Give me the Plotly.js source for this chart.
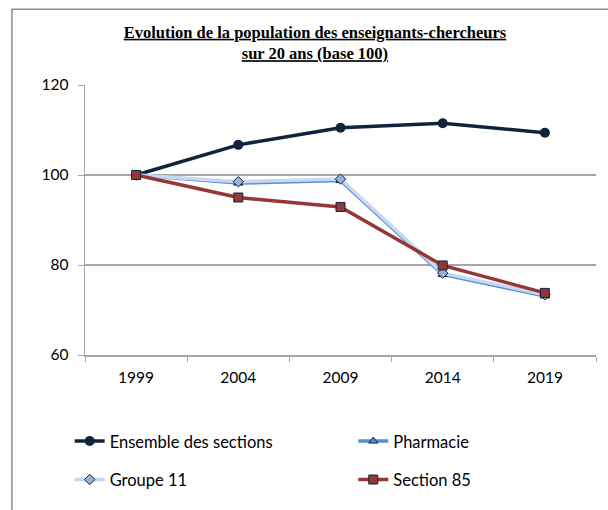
<!DOCTYPE html>
<html>
<head>
<meta charset="utf-8">
<script src="https://cdn.plot.ly/plotly-3.0.1.min.js"></script>
<style>
html,body{margin:0;padding:0;background:#fff;overflow:hidden;}
#chart{width:608px;height:510px;}
</style>
</head>
<body>
<div id="chart"></div>
<script>
const years = ['1999', '2004', '2009', '2014', '2019'];
const ensemble = [100, 106.7, 110.5, 111.5, 109.4];
const pharmacie = [100, 98.2, 98.8, 77.9, 73.1];
const groupe11 = [100, 98.5, 99.1, 78.2, 73.4];
const section85 = [100, 95.0, 92.9, 79.9, 73.8];
const titleText = 'Evolution de la population des enseignants-chercheurs<br>sur 20 ans (base 100)';
const yTicks = [60, 80, 100, 120];

const navy = '#10243E';
const traces = [
  {x: years, y: ensemble, name: 'Ensemble des sections', mode: 'lines+markers',
   line: {color: navy, width: 3.5}, marker: {symbol: 'circle', size: 10, color: navy},
   legend: 'legend', legendgroup: 'a'},
  {x: years, y: pharmacie, name: 'Pharmacie', mode: 'lines+markers',
   line: {color: '#5A8ED4', width: 3.5}, marker: {symbol: 'triangle-up', size: 8, color: '#5A8ED4', line: {color: navy, width: 1}},
   legend: 'legend2', legendgroup: 'b'},
  {x: years, y: groupe11, name: 'Groupe 11', mode: 'lines+markers',
   line: {color: '#C6D9F0', width: 3.5}, marker: {symbol: 'diamond', size: 8, color: '#95B3D7', line: {color: navy, width: 1}},
   legend: 'legend', legendgroup: 'c'},
  {x: years, y: section85, name: 'Section 85', mode: 'lines+markers',
   line: {color: '#953735', width: 3.5}, marker: {symbol: 'square', size: 9, color: '#953735', line: {color: navy, width: 1}},
   legend: 'legend2', legendgroup: 'd'}
];

const gridCol = '#A6A6A6';
const tickFont = {family: 'Lato, "Open Sans", sans-serif', size: 15.5, color: '#000'};
const legFont = {family: 'Lato, "Open Sans", sans-serif', size: 16.5, color: '#000'};
const titleFont = {family: '"Liberation Serif", "Times New Roman", serif', size: 16.5, color: '#000', weight: 'bold', lineposition: 'under'};
const layout = {
  width: 608, height: 510,
  margin: {l: 85, r: 12, t: 85, b: 155},
  paper_bgcolor: '#fff', plot_bgcolor: '#fff',
  showlegend: true,
  title: {text: titleText, x: 0.518, xanchor: 'center', y: 0.926, yanchor: 'top', font: titleFont},
  xaxis: {type: 'category', tickson: 'boundaries', ticks: 'outside', ticklen: 5, tickcolor: gridCol,
          showline: true, linecolor: gridCol, linewidth: 1.5, showgrid: false, zeroline: false,
          tickfont: tickFont, range: [-0.5, 4.5], ticklabelstandoff: 8},
  yaxis: {range: [60, 120], tickvals: yTicks, ticks: 'outside', ticklen: 6, tickcolor: gridCol,
          showline: true, linecolor: gridCol, linewidth: 1.5, showgrid: true, gridcolor: gridCol, gridwidth: 1.3,
          zeroline: false, tickfont: tickFont, ticklabelstandoff: 6},
  legend: {x: -0.03, xanchor: 'left', y: -0.255, yanchor: 'top', orientation: 'v',
           tracegroupgap: 14, font: legFont, bgcolor: 'rgba(0,0,0,0)'},
  legend2: {x: 0.525, xanchor: 'left', y: -0.255, yanchor: 'top', orientation: 'v',
           tracegroupgap: 14, font: legFont, bgcolor: 'rgba(0,0,0,0)'},
  shapes: [{type: 'rect', xref: 'paper', yref: 'paper', x0: -0.143, x1: 1.1, y0: -0.7, y1: 1.281,
            line: {color: '#8C8C8C', width: 1.5}, fillcolor: 'rgba(0,0,0,0)', layer: 'below'}]
};

Plotly.newPlot('chart', traces, layout, {displayModeBar: false, staticPlot: true});
</script>
</body>
</html>
